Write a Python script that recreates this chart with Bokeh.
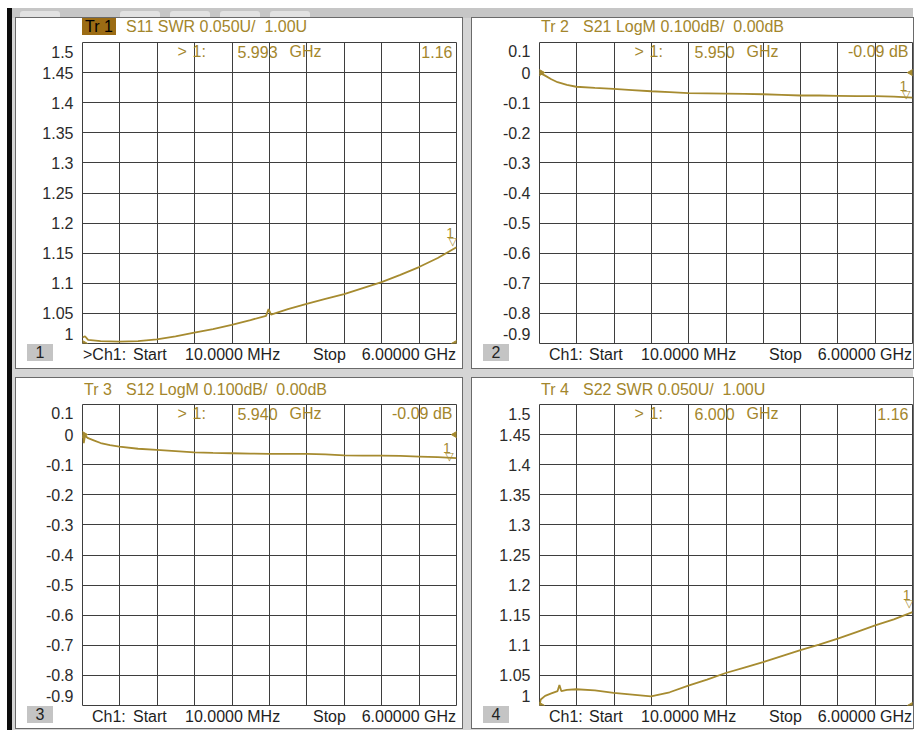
import math
from bokeh.plotting import figure
from bokeh.models import Range1d, FixedTicker, Label, Spacer, Div
from bokeh.layouts import row, column
from bokeh.core.properties import value
from bokeh.embed import file_html
from bokeh.resources import INLINE

# ---------------- data ----------------
F_START = 0.01   # GHz
F_STOP = 6.0     # GHz
N_DIV = 10

freq_s11 = [0.01, 0.05, 0.1, 0.3, 0.6, 0.9, 1.2, 1.5, 1.8, 2.1, 2.4, 2.7, 2.95, 2.99, 3.03,
            3.3, 3.6, 3.9, 4.2, 4.5, 4.8, 5.1, 5.4, 5.7, 6.0]
s11_swr = [1.010, 1.012, 1.006, 1.004, 1.003, 1.004, 1.007, 1.012, 1.018, 1.024, 1.031, 1.039,
           1.046, 1.057, 1.048, 1.057, 1.066, 1.074, 1.082, 1.092, 1.102, 1.114, 1.127, 1.142, 1.160]

freq_s21 = [0.01, 0.1, 0.2, 0.3, 0.45, 0.6, 0.9, 1.2, 1.5, 1.8, 2.1, 2.4, 2.7, 3.0, 3.3, 3.6,
            3.9, 4.2, 4.5, 4.8, 5.1, 5.4, 5.7, 6.0]
s21_db = [0.000, -0.010, -0.022, -0.032, -0.041, -0.047, -0.051, -0.054, -0.058, -0.062, -0.065,
          -0.068, -0.069, -0.070, -0.071, -0.072, -0.074, -0.076, -0.076, -0.077, -0.078, -0.078,
          -0.080, -0.083]

freq_s12 = [0.01, 0.03, 0.05, 0.1, 0.2, 0.3, 0.45, 0.6, 0.9, 1.2, 1.5, 1.8, 2.1, 2.4, 2.7, 3.0,
            3.3, 3.6, 3.9, 4.2, 4.5, 4.8, 5.1, 5.4, 5.7, 6.0]
s12_db = [0.000, -0.028, -0.004, -0.012, -0.020, -0.028, -0.035, -0.040, -0.047, -0.051, -0.055,
          -0.059, -0.061, -0.062, -0.063, -0.064, -0.064, -0.064, -0.066, -0.069, -0.070, -0.070,
          -0.071, -0.073, -0.075, -0.078]

freq_s22 = [0.01, 0.03, 0.1, 0.2, 0.3, 0.33, 0.36, 0.45, 0.6, 0.9, 1.2, 1.5, 1.8, 2.1, 2.4, 2.7,
            3.0, 3.3, 3.6, 3.9, 4.2, 4.5, 4.8, 5.1, 5.4, 5.7, 6.0]
s22_swr = [1.000, 1.010, 1.016, 1.020, 1.024, 1.034, 1.024, 1.026, 1.027, 1.025, 1.021, 1.018,
           1.015, 1.022, 1.033, 1.043, 1.054, 1.063, 1.072, 1.082, 1.092, 1.101, 1.111, 1.122,
           1.133, 1.143, 1.155]

marker_freq = [5.993, 5.950, 5.940, 6.000]
marker_val = [1.16, -0.09, -0.09, 1.16]
marker_freq_txt = ["5.993", "5.950", "5.940", "6.000"]
marker_unit_txt = "GHz"
marker_val_txt = ["1.16", "-0.09 dB", "-0.09 dB", "1.16"]

trace_names = ["Tr 1", "Tr 2", "Tr 3", "Tr 4"]
trace_titles = ["S11 SWR 0.050U/  1.00U", "S21 LogM 0.100dB/  0.00dB",
                "S12 LogM 0.100dB/  0.00dB", "S22 SWR 0.050U/  1.00U"]
ref_levels = [1.0, 0.0, 0.0, 1.0]

swr_grid = [1.0, 1.05, 1.1, 1.15, 1.2, 1.25, 1.3, 1.35, 1.4, 1.45, 1.5]
swr_tick_vals = [1.015, 1.05, 1.1, 1.15, 1.2, 1.25, 1.3, 1.35, 1.4, 1.45, 1.485]
swr_tick_labels = ["1", "1.05", "1.1", "1.15", "1.2", "1.25", "1.3", "1.35", "1.4", "1.45", "1.5"]

db_grid = [-0.9, -0.8, -0.7, -0.6, -0.5, -0.4, -0.3, -0.2, -0.1, 0.0, 0.1]
db_tick_vals = [-0.867, -0.8, -0.7, -0.6, -0.5, -0.4, -0.3, -0.2, -0.1, 0.0, 0.073]
db_tick_labels = ["-0.9", "-0.8", "-0.7", "-0.6", "-0.5", "-0.4", "-0.3", "-0.2", "-0.1", "0", "0.1"]

channel_txt = "Ch1:"
start_txt = "10.0000 MHz"
stop_txt = "6.00000 GHz"

# ---------------- style ----------------
FONT = "Liberation Sans"
GOLD = "#a3862c"
TRACE = "#a68b30"
GRIDC = "#3e3e3e"
BG = "#d5d5d5"
TXT = "#1e1e1e"

x_grid = [F_START + k * (F_STOP - F_START) / N_DIV for k in range(N_DIV + 1)]


def lab(p, x, y, text, color=GOLD, align="left"):
    p.add_layout(Label(x=x, y=y, x_units="screen", y_units="screen", text=text,
                       text_font=FONT, text_font_size="16px", text_color=color,
                       text_align=align, text_baseline="middle"))


def span(text, left=None, right=None, top=0, color=GOLD, extra=""):
    pos = ("left:%dpx;" % left) if right is None else ("right:%dpx;" % right)
    return ('<span style="position:absolute;%stop:%dpx;color:%s;white-space:pre;'
            'line-height:17px;%s">%s</span>' % (pos, top, color, extra, text))


def box(inner, w, h):
    return ('<div style="position:relative;width:%dpx;height:%dpx;overflow:visible;'
            'font-family:\'Liberation Sans\',Arial,sans-serif;font-size:16px;">%s</div>'
            % (w, h, inner))


def make_fig(i, w, h, bl, br, freqs, vals, ylo, yhi, grid, tvals, tlabels):
    p = figure(width=w, height=h, x_range=Range1d(F_START, F_STOP), y_range=Range1d(ylo, yhi),
               output_backend="svg", toolbar_location=None,
               min_border_left=bl, min_border_right=br, min_border_top=1, min_border_bottom=1)
    p.background_fill_color = "white"
    p.border_fill_color = "white"
    p.outline_line_color = GRIDC
    p.outline_line_width = 1

    p.xaxis.visible = False
    p.xgrid.ticker = FixedTicker(ticks=x_grid)
    p.ygrid.ticker = FixedTicker(ticks=grid)
    for g in (p.xgrid, p.ygrid):
        g.grid_line_color = GRIDC
        g.grid_line_width = 1
        g.grid_line_alpha = 1.0

    ax = p.yaxis[0]
    ax.ticker = FixedTicker(ticks=tvals)
    ax.major_label_overrides = {v: t for v, t in zip(tvals, tlabels)}
    ax.axis_line_color = None
    ax.major_tick_line_color = None
    ax.minor_tick_line_color = None
    ax.major_tick_out = 0
    ax.major_tick_in = 0
    ax.major_label_standoff = 9
    ax.major_label_text_font = FONT
    ax.major_label_text_font_size = "16px"
    ax.major_label_text_color = "#2b2b2b"

    p.line(freqs, vals, line_color=TRACE, line_width=1.8)

    ref = ref_levels[i]
    p.scatter([F_START], [ref], marker="triangle", angle=-math.pi / 2, size=9,
              fill_color=TRACE, line_color=TRACE)
    p.scatter([F_STOP], [ref], marker="triangle", angle=math.pi / 2, size=9,
              fill_color=TRACE, line_color=TRACE)

    p.text([marker_freq[i]], [marker_val[i]], text=["\u25bd"], text_font=value("DejaVu Sans"),
           text_font_size="11px", text_color=TRACE, text_align="right",
           text_baseline="bottom", y_offset=1, x_offset=1)
    p.text([marker_freq[i]], [marker_val[i]], text=["1"], text_font=value(FONT),
           text_font_size="14px", text_color=TRACE, text_align="right",
           text_baseline="bottom", y_offset=-9, x_offset=-2)

    fw = w - bl - br
    fh = h - 2
    lab(p, 95, fh - 9, ">")
    lab(p, 110, fh - 9, "1:")
    lab(p, 155, fh - 9, marker_freq_txt[i])
    lab(p, 207, fh - 9, marker_unit_txt)
    lab(p, fw - 4, fh - 9, marker_val_txt[i], align="right")
    return p


def make_panel(i, w, h, hdr_h, hdr_top, fig_h, foot_h, bl, br, freqs, vals, ylo, yhi,
               grid, tvals, tlabels):
    active = (i == 0)
    if active:
        tr = span(trace_names[i], left=bl, top=hdr_top, color="#000",
                  extra="background-color:#9c6c14;padding:0 3px;")
    else:
        tr = span(trace_names[i], left=bl + 2, top=hdr_top)
    hdr = Div(text=box(tr + span(trace_titles[i], left=bl + 44, top=hdr_top), w, hdr_h),
              width=w, height=hdr_h, margin=0, styles={"overflow": "visible"})

    fig = make_fig(i, w, fig_h, bl, br, freqs, vals, ylo, yhi, grid, tvals, tlabels)

    foot_inner = (
        span(str(i + 1), left=11, top=0, color="#222",
             extra="background-color:#c4c4c4;width:26px;height:17px;text-align:center;")
        + span((">" if active else "") + channel_txt, left=(bl + 1 if active else bl + 10),
               top=2, color=TXT)
        + span("Start", left=117, top=2, color=TXT)
        + span(start_txt, left=169, top=2, color=TXT)
        + span("Stop", left=297, top=2, color=TXT)
        + span(stop_txt, right=br, top=2, color=TXT)
    )
    foot = Div(text=box(foot_inner, w, foot_h), width=w, height=foot_h, margin=0,
               styles={"overflow": "visible"})
    return column(hdr, fig, foot, width=w, height=h,
                  styles={"background-color": "white", "box-shadow": "0 0 0 1px #6a6a6a"})


P1 = make_panel(0, 446, 350, 23, 0, 303, 24, 66, 6, freq_s11, s11_swr, 1.0, 1.5,
                swr_grid, swr_tick_vals, swr_tick_labels)
P2 = make_panel(1, 441, 350, 23, 0, 303, 24, 67, 1, freq_s21, s21_db, -0.9, 0.1,
                db_grid, db_tick_vals, db_tick_labels)
P3 = make_panel(2, 446, 350, 25, 3, 303, 22, 66, 6, freq_s12, s12_db, -0.9, 0.1,
                db_grid, db_tick_vals, db_tick_labels)
P4 = make_panel(3, 441, 350, 25, 3, 303, 22, 67, 1, freq_s22, s22_swr, 1.0, 1.5,
                swr_grid, swr_tick_vals, swr_tick_labels)

tabs_html = box("".join(
    '<span style="position:absolute;left:%dpx;top:1px;width:40px;height:8px;'
    'background:#e2e2e2;border-radius:3px 3px 0 0;"></span>' % x
    for x in (8, 108, 158, 208, 258)), 901, 10)
tabs = Div(text=tabs_html, width=901, height=10, margin=0,
           styles={"background-color": "#c6c6c6"})

grey_block = column(
    tabs,
    row(Spacer(width=4, height=350, margin=0), P1, Spacer(width=10, height=350, margin=0), P2),
    Spacer(width=901, height=10, margin=0),
    row(Spacer(width=4, height=350, margin=0), P3, Spacer(width=10, height=350, margin=0), P4),
    Spacer(width=901, height=2, margin=0),
    styles={"background-color": BG},
)
layout = column(
    Spacer(width=913, height=8, margin=0),
    row(Spacer(width=7, height=722, margin=0),
        Spacer(width=5, height=722, margin=0, styles={"background-color": "#0c0c0c"}),
        grey_block),
)

open("out.html", "w").write(file_html(layout, INLINE))
